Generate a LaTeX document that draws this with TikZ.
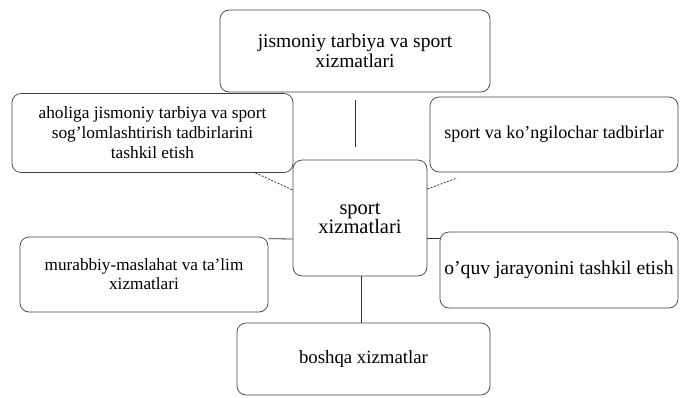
\documentclass[tikz,border=0pt]{standalone}
\usepackage{fontspec}
\setmainfont{Liberation Serif}
\begin{document}
\begin{tikzpicture}[x=1pt,y=-1pt,
  box/.style={draw=black!75,line width=0.7pt,rounded corners=9pt,align=center,inner sep=0pt},
  fs/.style={font=\fontsize{#1}{20}\selectfont},
  conn/.style={draw=black!80,line width=0.8pt},
  dconn/.style={draw=black!80,line width=0.8pt,dash pattern=on 2pt off 1.5pt}]
\useasboundingbox (0,0) rectangle (680,397);
\node[box,fs=19.5,minimum width=270,minimum height=82] (top) at (355,51) {jismoniy tarbiya va sport\\xizmatlari};
\node[box,fs=17.3,minimum width=281,minimum height=79] (lm) at (152.5,133) {aholiga jismoniy tarbiya va sport\\sog'lomlashtirish tadbirlarini\\tashkil etish};
\node[box,fs=18,minimum width=248,minimum height=75] (rm) at (554,134.5) {sport va ko'ngilochar tadbirlar};
\node[box,font=\fontsize{20.5}{19}\selectfont,minimum width=134,minimum height=116] (c) at (360,218) {sport\\xizmatlari};
\node[box,font=\fontsize{17.2}{19}\selectfont,minimum width=248,minimum height=75] (lb) at (144,274.5) {murabbiy-maslahat va ta'lim\\xizmatlari};
\node[box,fs=19.6,minimum width=238,minimum height=76] (rb) at (559,270) {o'quv jarayonini tashkil etish};
\node[box,fs=18.8,minimum width=253,minimum height=72] (bot) at (363.5,359) {boshqa xizmatlar};
\coordinate (rmend) at (457,178);
\draw[conn] (top.south) ++(0,8) -- (355,147);
\draw[dconn] (lm.south east) ++(-38,0) -- (c.west |- 0,190);
\draw[dconn] (c.east |- 0,189) -- (rmend);
\draw[conn] (lb.north east) ++(0,2) -- (c.west |- 0,239);
\draw[conn] (c.east |- 0,238) -- (rb.north west |- 0,238);
\draw[conn] (c.south -| 361,0) -- (bot.north -| 361,0);
\end{tikzpicture}
\end{document}
